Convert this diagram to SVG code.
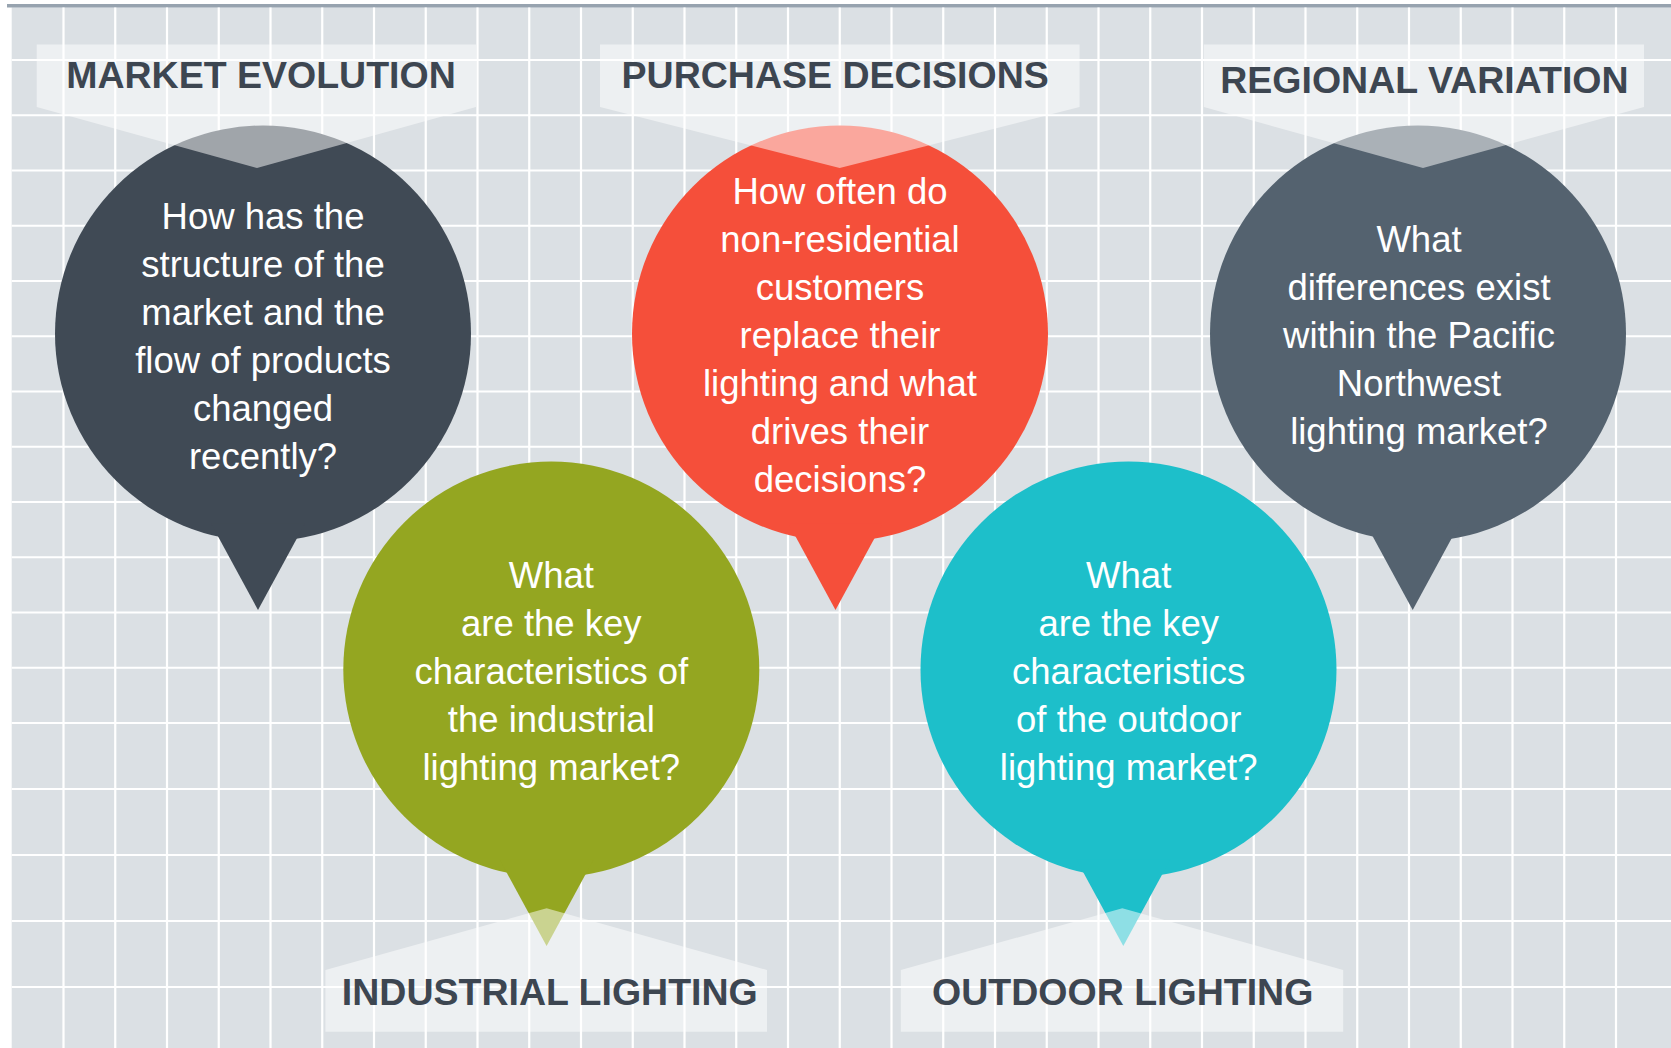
<svg xmlns="http://www.w3.org/2000/svg" width="1671" height="1048" viewBox="0 0 1671 1048">
  <defs>
    <style>
      .grid { stroke: #ffffff; stroke-width: 2.2; fill: none; }
      .label { fill: #ffffff; fill-opacity: 0.5; }
      .ltext { font-family: "Liberation Sans", Arial, sans-serif; font-weight: bold; font-size: 37.5px; fill: #3d4651; text-anchor: middle; }
      .qtext { font-family: "Liberation Sans", Arial, sans-serif; font-size: 36.5px; fill: #ffffff; text-anchor: middle; }
    </style>
  </defs>
  <rect x="0" y="0" width="1671" height="1048" fill="#ffffff"/>
  <rect x="11.7" y="7.3" width="1659.3" height="1040.7" fill="#dbe0e4"/>
  <rect x="7" y="4" width="1664" height="3.5" fill="#97a3af"/>
  <g id="grid">
    <path class="grid" d="M63.5 7.5V1048M115.25 7.5V1048M167 7.5V1048M218.75 7.5V1048M270.5 7.5V1048M322.25 7.5V1048M374 7.5V1048M425.75 7.5V1048M477.5 7.5V1048M529.25 7.5V1048M581 7.5V1048M632.75 7.5V1048M684.5 7.5V1048M736.25 7.5V1048M788 7.5V1048M839.75 7.5V1048M891.5 7.5V1048M943.25 7.5V1048M995 7.5V1048M1046.75 7.5V1048M1098.5 7.5V1048M1150.25 7.5V1048M1202 7.5V1048M1253.75 7.5V1048M1305.5 7.5V1048M1357.25 7.5V1048M1409 7.5V1048M1460.75 7.5V1048M1512.5 7.5V1048M1564.25 7.5V1048M1616 7.5V1048"/>
    <path class="grid" d="M11.7 60H1671M11.7 115.25H1671M11.7 170.5H1671M11.7 225.75H1671M11.7 281H1671M11.7 336.25H1671M11.7 391.5H1671M11.7 446.75H1671M11.7 502H1671M11.7 557.25H1671M11.7 612.5H1671M11.7 667.75H1671M11.7 723H1671M11.7 789H1671M11.7 855H1671M11.7 921H1671M11.7 987H1671"/>
  </g>
  <g id="connectors"></g>

  <g id="market-evolution">
    <circle cx="263" cy="333.5" r="208" fill="#404a55"/>
    <polygon points="211,523.5 305,523.5 258,610" fill="#404a55"/>
    <path class="label" d="M36.7 44.5H476V107L257 168L36.7 107Z"/>
    <text class="ltext" x="261" y="88.3">MARKET EVOLUTION</text>
    <text class="qtext" x="263" y="229.3">How has the</text>
    <text class="qtext" x="263" y="277.3">structure of the</text>
    <text class="qtext" x="263" y="325.3">market and the</text>
    <text class="qtext" x="263" y="373.3">flow of products</text>
    <text class="qtext" x="263" y="421.3">changed</text>
    <text class="qtext" x="263" y="469.3">recently?</text>
  </g>

  <g id="purchase-decisions">
    <circle cx="840" cy="333.5" r="208" fill="#f54f3a"/>
    <polygon points="788.5,523.5 882.5,523.5 835.5,610" fill="#f54f3a"/>
    <path class="label" d="M600 44.5H1079.6V107L839.7 168L600 107Z"/>
    <text class="ltext" x="835.2" y="88.3">PURCHASE DECISIONS</text>
    <text class="qtext" x="840" y="203.5">How often do</text>
    <text class="qtext" x="840" y="251.5">non-residential</text>
    <text class="qtext" x="840" y="299.5">customers</text>
    <text class="qtext" x="840" y="347.5">replace their</text>
    <text class="qtext" x="840" y="395.5">lighting and what</text>
    <text class="qtext" x="840" y="443.5">drives their</text>
    <text class="qtext" x="840" y="491.5">decisions?</text>
  </g>

  <g id="regional-variation">
    <circle cx="1418" cy="333.5" r="208" fill="#54626f"/>
    <polygon points="1365.7,523.5 1459.7,523.5 1412.7,610" fill="#54626f"/>
    <path class="label" d="M1203.8 44.5H1644V107L1423 168L1203.8 107Z"/>
    <text class="ltext" x="1424.4" y="93.3">REGIONAL VARIATION</text>
    <text class="qtext" x="1419" y="251.5">What</text>
    <text class="qtext" x="1419" y="299.5">differences exist</text>
    <text class="qtext" x="1419" y="347.5">within the Pacific</text>
    <text class="qtext" x="1419" y="395.5">Northwest</text>
    <text class="qtext" x="1419" y="443.5">lighting market?</text>
  </g>

  <g id="industrial-lighting">
    <circle cx="551.3" cy="669.5" r="208" fill="#94a621"/>
    <polygon points="499.6,859.5 593.6,859.5 546.6,946" fill="#94a621"/>
    <path class="label" d="M325.4 1031.7H767V970L546.6 908.3L325.4 970Z"/>
    <text class="ltext" x="549.8" y="1005">INDUSTRIAL LIGHTING</text>
    <text class="qtext" x="551.3" y="588">What</text>
    <text class="qtext" x="551.3" y="636">are the key</text>
    <text class="qtext" x="551.3" y="684.3">characteristics of</text>
    <text class="qtext" x="551.3" y="732.3">the industrial</text>
    <text class="qtext" x="551.3" y="780.3">lighting market?</text>
  </g>

  <g id="outdoor-lighting">
    <circle cx="1128.5" cy="669.5" r="208" fill="#1dbfca"/>
    <polygon points="1076.3,859.5 1170.3,859.5 1123.3,946" fill="#1dbfca"/>
    <path class="label" d="M900.8 1031.7H1343.2V970L1122.3 908.3L900.8 970Z"/>
    <text class="ltext" x="1122.7" y="1005">OUTDOOR LIGHTING</text>
    <text class="qtext" x="1128.7" y="588">What</text>
    <text class="qtext" x="1128.7" y="636">are the key</text>
    <text class="qtext" x="1128.7" y="684.3">characteristics</text>
    <text class="qtext" x="1128.7" y="732.3">of the outdoor</text>
    <text class="qtext" x="1128.7" y="780.3">lighting market?</text>
  </g>
</svg>
